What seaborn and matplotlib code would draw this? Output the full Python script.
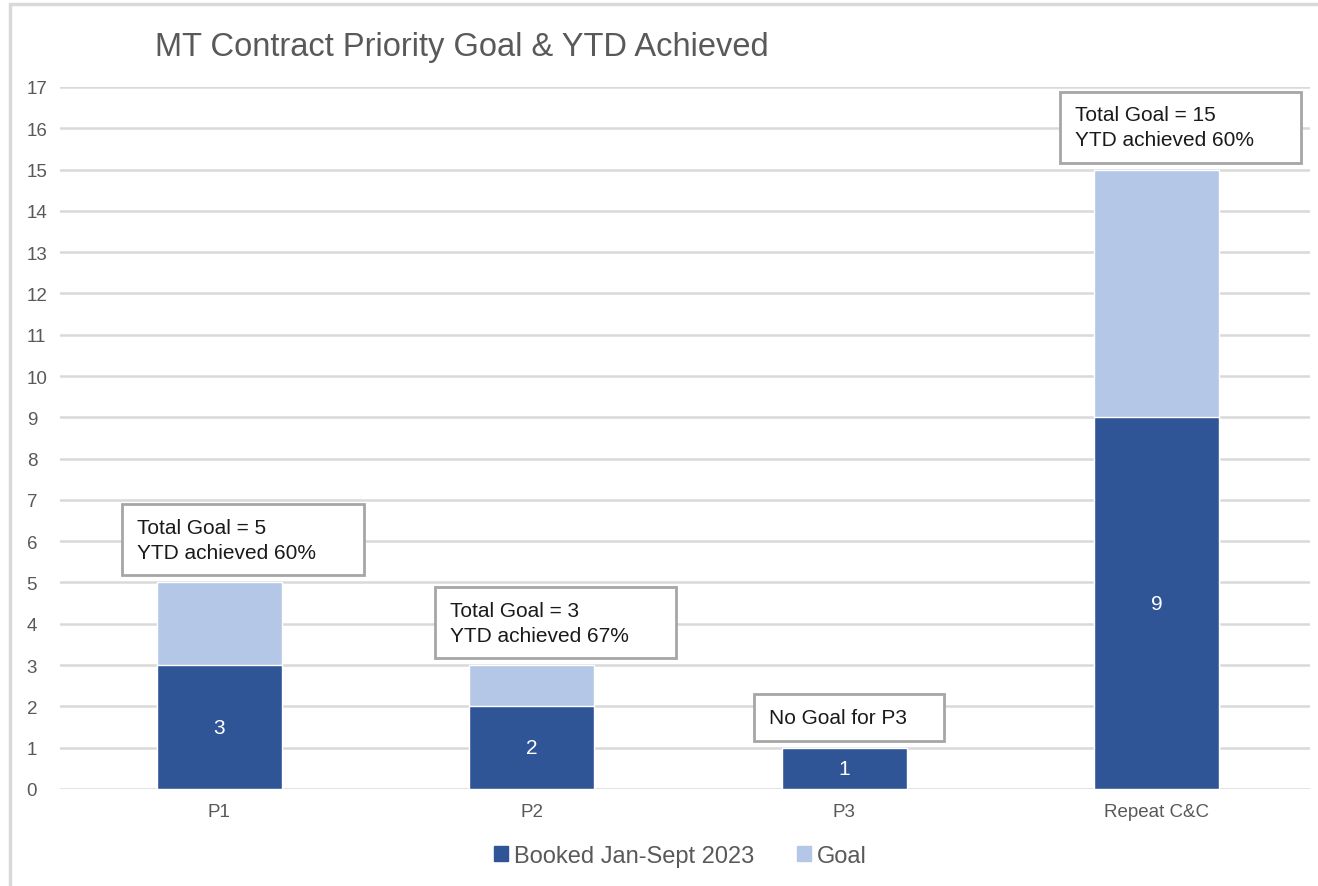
import matplotlib
matplotlib.use("Agg")
import matplotlib.pyplot as plt
import matplotlib.patches as mpatches
import seaborn as sns
import pandas as pd

categories = ["P1", "P2", "P3", "Repeat C&C"]
booked = [3, 2, 1, 9]
goal = [2, 1, 0, 6]
notes = ["Total Goal = 5\nYTD achieved 60%",
         "Total Goal = 3\nYTD achieved 67%",
         "No Goal for P3",
         "Total Goal = 15\nYTD achieved 60%"]
title = "MT Contract Priority Goal & YTD Achieved"
series_names = ["Booked Jan-Sept 2023", "Goal"]

DARK = "#2F5597"
LIGHT = "#B4C7E7"
GRAY_TXT = "#595959"
GRID = "#d9d9d9"

sns.set_theme(style="white")
plt.rcParams["font.family"] = ["Liberation Sans", "DejaVu Sans"]

fig = plt.figure(figsize=(13.18, 8.87), dpi=100)
ax = fig.add_axes([0.0455, 0.1094, 0.9485, 0.7914])

df = pd.DataFrame({"cat": categories, "booked": booked,
                   "total": [b + g for b, g in zip(booked, goal)]})

sns.barplot(data=df, x="cat", y="total", color=LIGHT, width=0.4,
            saturation=1, ax=ax, zorder=3)
sns.barplot(data=df, x="cat", y="booked", color=DARK, width=0.4,
            saturation=1, ax=ax, zorder=3)

ax.set_ylim(0, 17)
ax.set_xlim(-0.51, 3.49)
ax.set_yticks(range(0, 18))
ax.yaxis.grid(True, color=GRID, linewidth=1.8, zorder=0)
ax.set_axisbelow(True)
for s in ax.spines.values():
    s.set_visible(False)
ax.set_xlabel("")
ax.set_ylabel("")
ax.tick_params(axis="both", length=0, colors=GRAY_TXT, labelsize=13.5)
ax.tick_params(axis="x", pad=10)
ax.tick_params(axis="y", pad=24)
for lbl in ax.get_yticklabels():
    lbl.set_horizontalalignment("left")

# value labels inside the booked bars
for i, b in enumerate(booked):
    ax.text(i, b / 2, str(b), ha="center", va="center", color="white",
            fontsize=15, zorder=5)

# annotation boxes
for i, (b, g, note) in enumerate(zip(booked, goal, notes)):
    top = b + g
    if g > 0:
        left, w, h = i - 0.31, 0.772, 1.72
    else:
        left, w, h = i - 0.29, 0.61, 1.12
    bottom = top + 0.17
    rect = mpatches.Rectangle((left, bottom), w, h, facecolor="white",
                              edgecolor="#a6a6a6", linewidth=2, zorder=6)
    ax.add_patch(rect)
    ax.text(left + 0.048, bottom + h / 2, note, ha="left", va="center",
            fontsize=15, color="#1a1a1a", linespacing=1.4, zorder=7)

fig.text(0.1176, 0.947, title, ha="left", va="center", fontsize=23.5,
         color=GRAY_TXT)

handles = [mpatches.Patch(color=DARK, label=series_names[0]),
           mpatches.Patch(color=LIGHT, label=series_names[1])]
leg = fig.legend(handles=handles, loc="center", ncol=2,
                 bbox_to_anchor=(0.516, 0.034), frameon=False,
                 fontsize=17, handlelength=0.6, handleheight=0.6,
                 handletextpad=0.25, columnspacing=1.8)
for t in leg.get_texts():
    t.set_color(GRAY_TXT)

border = mpatches.Rectangle((10 / 1318, -0.2), 1.2, 1.2 - 5 / 887,
                            transform=fig.transFigure, fill=False,
                            edgecolor=GRID, linewidth=2.5, clip_on=False)
fig.patches.append(border)

fig.savefig("out.png", dpi=100)
